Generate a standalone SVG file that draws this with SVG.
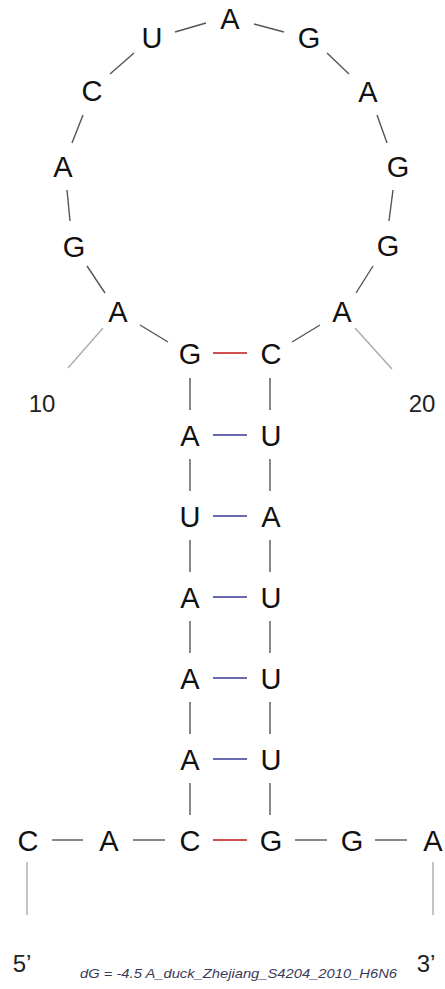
<svg xmlns="http://www.w3.org/2000/svg" width="445" height="989" viewBox="0 0 445 989">
<style>
.n{font-family:"Liberation Sans",Arial,sans-serif;font-size:29px;fill:#111;text-anchor:middle}
.num{font-family:"Liberation Sans",Arial,sans-serif;font-size:24px;fill:#222;text-anchor:middle}
.bb{stroke:#555;stroke-width:1.4;fill:none}
.lt{stroke:#aaa;stroke-width:1.4;fill:none}
.gc{stroke:#d05050;stroke-width:2}
.au{stroke:#6a6ab0;stroke-width:2}
.ft{font-family:"Liberation Sans",Arial,sans-serif;font-size:13px;font-style:italic;fill:#3a3a5a}
</style>
<rect width="445" height="989" fill="#fff"/>
<g id="connectors">
<line class="bb" x1="175" y1="32" x2="206" y2="23"/>
<line class="bb" x1="254" y1="24" x2="284" y2="32"/>
<line class="bb" x1="110" y1="74" x2="134" y2="53"/>
<line class="bb" x1="327" y1="53" x2="349" y2="74"/>
<line class="bb" x1="83" y1="115" x2="72" y2="143"/>
<line class="bb" x1="377" y1="115" x2="387" y2="143"/>
<line class="bb" x1="67" y1="190" x2="70" y2="221"/>
<line class="bb" x1="393" y1="190" x2="389" y2="221"/>
<line class="bb" x1="87" y1="266" x2="105" y2="293"/>
<line class="bb" x1="373" y1="266" x2="356" y2="293"/>
<line class="bb" x1="140" y1="325" x2="168" y2="342"/>
<line class="bb" x1="292" y1="342" x2="320" y2="325"/>
<line class="lt" x1="68" y1="368" x2="103" y2="328"/>
<line class="lt" x1="355" y1="328" x2="392" y2="369"/>
<line class="gc" x1="213" y1="353" x2="247" y2="353"/>
<line class="au" x1="213" y1="435" x2="247" y2="435"/>
<line class="au" x1="213" y1="516" x2="247" y2="516"/>
<line class="au" x1="213" y1="597" x2="247" y2="597"/>
<line class="au" x1="213" y1="678" x2="247" y2="678"/>
<line class="au" x1="213" y1="759" x2="247" y2="759"/>
<line class="gc" x1="213" y1="840" x2="247" y2="840"/>
<line class="bb" x1="190" y1="378" x2="190" y2="410"/>
<line class="bb" x1="190" y1="459" x2="190" y2="491"/>
<line class="bb" x1="190" y1="540" x2="190" y2="572"/>
<line class="bb" x1="190" y1="621" x2="190" y2="653"/>
<line class="bb" x1="190" y1="702" x2="190" y2="734"/>
<line class="bb" x1="190" y1="783" x2="190" y2="815"/>
<line class="bb" x1="270" y1="378" x2="270" y2="410"/>
<line class="bb" x1="270" y1="459" x2="270" y2="491"/>
<line class="bb" x1="270" y1="540" x2="270" y2="572"/>
<line class="bb" x1="270" y1="621" x2="270" y2="653"/>
<line class="bb" x1="270" y1="702" x2="270" y2="734"/>
<line class="bb" x1="270" y1="783" x2="270" y2="815"/>
<line class="bb" x1="52" y1="840" x2="83" y2="840"/>
<line class="bb" x1="133" y1="840" x2="165" y2="840"/>
<line class="bb" x1="295" y1="840" x2="327" y2="840"/>
<line class="bb" x1="375" y1="840" x2="407" y2="840"/>
<line class="lt" x1="27" y1="862" x2="27" y2="915"/>
<line class="lt" x1="433" y1="862" x2="433" y2="915"/>
</g>
<g id="n1"><text class="n" x="28" y="851">C</text></g>
<g id="n2"><text class="n" x="109" y="851">A</text></g>
<g id="n3"><text class="n" x="190" y="851">C</text></g>
<g id="n4"><text class="n" x="190" y="770">A</text></g>
<g id="n5"><text class="n" x="190" y="689">A</text></g>
<g id="n6"><text class="n" x="190" y="608">A</text></g>
<g id="n7"><text class="n" x="190" y="527">U</text></g>
<g id="n8"><text class="n" x="190" y="446">A</text></g>
<g id="n9"><text class="n" x="190" y="364">G</text></g>
<g id="n10"><text class="n" x="118" y="322">A</text></g>
<g id="n11"><text class="n" x="74" y="257">G</text></g>
<g id="n12"><text class="n" x="63" y="177">A</text></g>
<g id="n13"><text class="n" x="92" y="101">C</text></g>
<g id="n14"><text class="n" x="152" y="48">U</text></g>
<g id="n15"><text class="n" x="230" y="29">A</text></g>
<g id="n16"><text class="n" x="309" y="48">G</text></g>
<g id="n17"><text class="n" x="368" y="102">A</text></g>
<g id="n18"><text class="n" x="398" y="177">G</text></g>
<g id="n19"><text class="n" x="388" y="256">G</text></g>
<g id="n20"><text class="n" x="342" y="322">A</text></g>
<g id="n21"><text class="n" x="271" y="364">C</text></g>
<g id="n22"><text class="n" x="271" y="446">U</text></g>
<g id="n23"><text class="n" x="271" y="527">A</text></g>
<g id="n24"><text class="n" x="271" y="608">U</text></g>
<g id="n25"><text class="n" x="271" y="689">U</text></g>
<g id="n26"><text class="n" x="271" y="770">U</text></g>
<g id="n27"><text class="n" x="271" y="851">G</text></g>
<g id="n28"><text class="n" x="352" y="851">G</text></g>
<g id="n29"><text class="n" x="433" y="851">A</text></g>
<g id="labels">
<text class="num" x="42" y="412">10</text>
<text class="num" x="422" y="412">20</text>
<text class="num" x="22" y="972">5’</text>
<text class="num" x="426" y="972">3’</text>
<text class="ft" x="80" y="978" textLength="317" lengthAdjust="spacingAndGlyphs">dG = -4.5 A_duck_Zhejiang_S4204_2010_H6N6</text>
</g>
</svg>
